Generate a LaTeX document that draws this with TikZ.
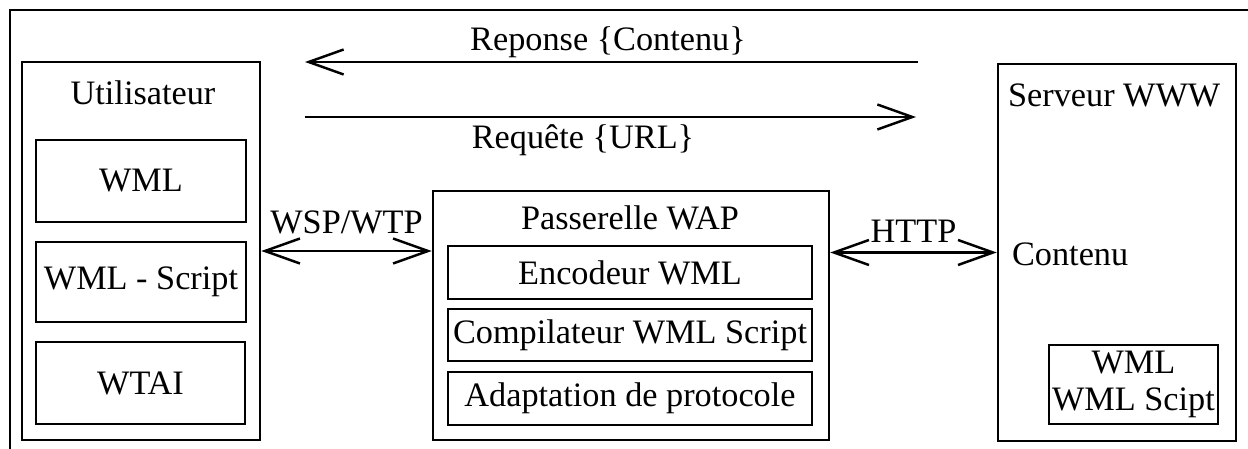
\documentclass[tikz,border=0pt]{standalone}
\usepackage{fontspec}
\setmainfont{Liberation Serif}
\usetikzlibrary{arrows.meta}
\begin{document}
\begin{tikzpicture}[x=0.02cm, y=-0.02cm,
    every node/.style={font=\fontsize{19.5}{21.5}\selectfont},
    box/.style={draw, line width=1.5pt, inner sep=0pt, align=center},
    lbl/.style={inner sep=1pt},
    msg/.style={line width=1.4pt, -{Straight Barb[length=7mm, width=5mm]}},
    link/.style={line width=1.4pt, {Straight Barb[length=7mm, width=5mm]}-{Straight Barb[length=7mm, width=5mm]}}]
  \useasboundingbox (0,0) rectangle (1248,449);
  \draw[line width=1.2pt] (10,449) |- (1248,10);

  \node[box, minimum width=4.76cm, minimum height=7.56cm] (user) at (141,251) {};
  \node[lbl] (usertitle) at (143,93) {Utilisateur};
  \node[box, minimum width=4.2cm, minimum height=1.64cm] (wml) at (141,181) {WML};
  \node[box, minimum width=4.2cm, minimum height=1.6cm] (wmls) at (141,282) {WML - Script};
  \node[box, minimum width=4.18cm, minimum height=1.64cm] (wtai) at (140.5,383) {WTAI};

  \node[box, minimum width=7.92cm, minimum height=4.98cm] (gw) at (631,315.5) {};
  \node[lbl] (gwtitle) at (630,218) {Passerelle WAP};
  \node[box, minimum width=7.28cm, minimum height=1.06cm] (enc) at (630,272.5) {Encodeur WML};
  \node[box, minimum width=7.28cm, minimum height=1.04cm] (comp) at (630,335) {Compilateur WML Script};
  \node[box, minimum width=7.28cm, minimum height=1.06cm] (adapt) at (630,398.5) {Adaptation de protocole};

  \node[box, minimum width=4.76cm, minimum height=7.54cm] (srv) at (1117,252.5) {};
  \node[lbl, anchor=west] (srvtitle) at (1006,95) {Serveur WWW};
  \node[lbl, anchor=west] (content) at (1010,254) {Contenu};
  \node[box, minimum width=3.38cm, minimum height=1.58cm] (srvdoc) at (1133.5,384.5) {WML\\WML Scipt};

  \coordinate (repA) at (918,62);
  \coordinate (repB) at (305,62);
  \coordinate (reqA) at (305,117);
  \coordinate (reqB) at (916,117);
  \draw[msg] (repA) -- (repB);
  \draw[msg] (reqA) -- (reqB);
  \node[lbl] (replbl) at (608,42) {Reponse \{Contenu\}};
  \node[lbl] (reqlbl) at (583,140) {Requête \{URL\}};

  \draw[link] (user.east) -- (user.east -| gw.west)
    node[midway, above=9pt, inner sep=0pt] (wsp) {WSP/WTP};
  \draw[link] (srv.west -| gw.east) -- (srv.west)
    node[midway, above=5pt, inner sep=0pt] (http) {HTTP};
\end{tikzpicture}
\end{document}
